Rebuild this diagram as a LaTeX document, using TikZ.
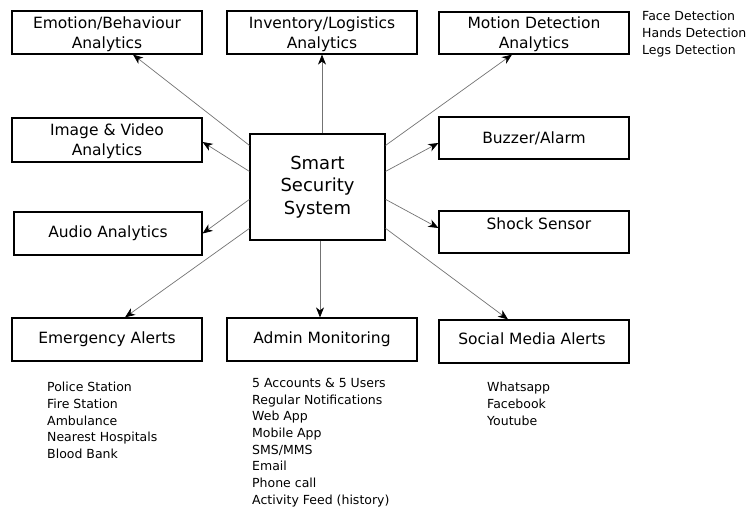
\documentclass[tikz,border=0pt]{standalone}
\usepackage{fontspec}
\setmainfont{DejaVu Sans}
\usetikzlibrary{arrows.meta}
\begin{document}
\begin{tikzpicture}[x=1pt,y=-1pt,
  box/.style={draw=black,line width=1.2pt,minimum width=190pt,minimum height=43pt,
    inner sep=0pt,align=center,font=\fontsize{15.5}{20}\selectfont},
  twoline/.style={text depth=0pt},
  hub/.style={draw=black,line width=1.2pt,minimum width=135pt,minimum height=106pt,
    inner sep=0pt,align=center,font=\fontsize{18}{22.5}\selectfont},
  flow/.style={draw=black!55,line width=0.7pt,
    -{Stealth[length=10pt,width=8pt,inset=3pt,black]}},
  notes/.style={anchor=north west,inner sep=0pt,align=left,
    font=\fontsize{12.5}{16.7}\selectfont}]
\useasboundingbox (0,0) rectangle (753,510);

% central unit
\node[hub] (sss) at (317.5,187) {Smart\\Security\\System};

% top row
\node[box,twoline] (emo) at (107,32.5) {Emotion/Behaviour\\Analytics};
\node[box,twoline] (inv) at (322,32.5) {Inventory/Logistics\\Analytics};
\node[box,twoline,minimum height=42pt] (mot) at (534,33) {Motion Detection\\Analytics};

% left column
\node[box,twoline,minimum height=44pt] (img) at (107,140) {Image \& Video\\Analytics};
\node[box,minimum width=188pt] (aud) at (108,233.5) {Audio Analytics};

% right column
\node[box,minimum height=42pt] (buz) at (534,138) {Buzzer/Alarm};
\node[box,minimum height=42pt] (shk) at (534,232) {};
\node[inner sep=0pt,font=\fontsize{15.5}{20}\selectfont] (shkt) at (539,224) {Shock Sensor};

% bottom row
\node[box] (emg) at (107,339.5) {Emergency Alerts};
\node[box] (adm) at (322,339.5) {Admin Monitoring};
\node[box] (soc) at (534,341.5) {};
\node[inner sep=0pt,font=\fontsize{15.5}{20}\selectfont] (soct) at (532,339) {Social Media Alerts};

% connectors
\draw[flow] ([yshift=-12pt]sss.north west) -- ([xshift=26pt]emo.south);
\draw[flow] ([xshift=4.5pt]sss.north) -- (inv.south);
\draw[flow] ([yshift=-12pt]sss.north east) -- ([xshift=-22pt]mot.south);
\draw[flow] ([yshift=-38pt]sss.north west) -- ([yshift=-2pt]img.east);
\draw[flow] ([yshift=-66pt]sss.north west) -- (aud.east);
\draw[flow] ([yshift=-95pt]sss.north west) -- ([xshift=18pt]emg.north);
\draw[flow] ([xshift=2.5pt]sss.south) -- ([xshift=-2pt]adm.north);
\draw[flow] ([yshift=-95pt]sss.north east) -- ([xshift=-26pt]soc.north);
\draw[flow] ([yshift=-38pt]sss.north east) -- ([yshift=-5pt]buz.west);
\draw[flow] ([yshift=-66pt]sss.north east) -- ([yshift=4pt]shk.west);

% detail lists
\node[notes] (facel) at (642,11) {Face Detection\\Hands Detection\\Legs Detection};
\node[notes] (emgl) at (47,382) {Police Station\\Fire Station\\Ambulance\\Nearest Hospitals\\Blood Bank};
\node[notes] (adml) at (252,378) {5 Accounts \& 5 Users\\Regular Notifications\\Web App\\Mobile App\\SMS/MMS\\Email\\Phone call\\Activity Feed (history)};
\node[notes] (socl) at (487,382) {Whatsapp\\Facebook\\Youtube};
\end{tikzpicture}
\end{document}
